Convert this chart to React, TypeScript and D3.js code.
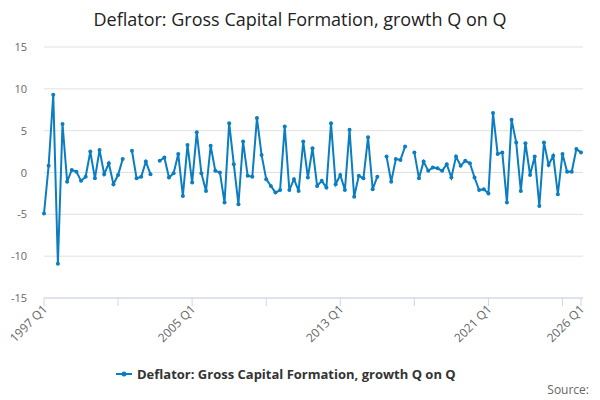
import React from "react";
import * as d3 from "d3";

const startYear = 1997;
const values: (number | null)[] = [
  -4.9, 0.8, 9.3, -10.9, 5.8, -1.1, 0.3, 0.1, -1.0, -0.5, 2.5, -0.7, 2.7, -0.2, 1.1, -1.4, -0.3, 1.6, null,
  2.6, -0.7, -0.5, 1.3, -0.2, null, 1.4, 1.8, -0.6, -0.1, 2.2, -2.8, 3.3, -1.2, 4.8, -0.1, -2.2, 3.2, 0.2, 0.0,
  -3.6, 5.9, 1.0, -3.8, 3.7, -0.4, -0.5, 6.5, 2.1, -0.8, -1.6, -2.4, -2.1, 5.5, -2.1, -0.8, -2.2, 3.7, -0.6,
  2.9, -1.6, -1.0, -1.8, 5.9, -1.4, -0.3, -2.1, 5.1, -2.9, -0.4, -0.7, 4.2, -2.0, -0.5, null, 1.9, -1.1, 1.6,
  1.5, 3.1, null, 2.4, -0.7, 1.3, 0.2, 0.6, 0.5, 0.2, 1.0, -0.6, 1.9, 0.8, 1.4, 1.1, -0.6, -2.1, -2.0, -2.5,
  7.1, 2.2, 2.4, -3.6, 6.3, 3.6, -2.2, 3.5, -0.3, 1.9, -4.0, 3.6, 0.9, 2.0, -2.6, 2.2, 0.1, 0.1, 2.8, 2.4,
];
const yTicks = [-15, -10, -5, 0, 5, 10, 15];
const xLabelIdx = [0, 32, 64, 96, 116];
const xTickIdx = [0, 16, 32, 48, 64, 80, 96, 112, 116];
const label = (i: number) => `${startYear + Math.floor(i / 4)} Q${(i % 4) + 1}`;

export default function App() {
  const W = 600, H = 400;
  const x = d3.scaleLinear().domain([0, values.length - 1]).range([44, 581]);
  const y = d3.scaleLinear().domain([-15, 15]).range([298, 47]);
  const line = d3.line<number | null>().defined(d => d !== null).x((_, i) => x(i)).y(d => y(d as number));
  const color = "#0b7dc1";
  const font = "'Open Sans', 'DejaVu Sans', sans-serif";
  return (
    <svg width={W} height={H} style={{ position: "absolute", left: 0, top: 0, fontFamily: font }}>
      <rect width={W} height={H} fill="#fff" />
      <text x={300} y={26} textAnchor="middle" fontSize={18} fill="#222">Deflator: Gross Capital Formation, growth Q on Q</text>
      {yTicks.map(t => (
        <g key={t}>
          <line x1={44} x2={583} y1={y(t)} y2={y(t)} stroke="#e0e0e0" />
          <text x={27} y={y(t) + 4} textAnchor="end" fontSize={11} fill="#666">{t}</text>
        </g>
      ))}
      <line x1={44} x2={583} y1={298} y2={298} stroke="#ccd6eb" />
      {xTickIdx.map(i => (
        <line key={i} x1={x(i)} x2={x(i)} y1={298} y2={306} stroke="#ccd6eb" />
      ))}
      {xLabelIdx.map(i => (
        <text key={i} transform={`translate(${x(i) + 4},${310}) rotate(-45)`} textAnchor="end" fontSize={12} fill="#666">{label(i)}</text>
      ))}
      <path d={line(values) || ""} fill="none" stroke={color} strokeWidth={2} />
      {values.map((v, i) => v === null ? null : <circle key={i} cx={x(i)} cy={y(v)} r={2} fill={color} />)}
      <line x1={116} x2={132} y1={374} y2={374} stroke={color} strokeWidth={2} />
      <circle cx={124} cy={374} r={2.5} fill={color} />
      <text x={137} y={378.5} fontSize={13} fontWeight="bold" fill="#333">Deflator: Gross Capital Formation, growth Q on Q</text>
      <text x={589} y={394} textAnchor="end" fontSize={12} fill="#666">Source:</text>
    </svg>
  );
}
